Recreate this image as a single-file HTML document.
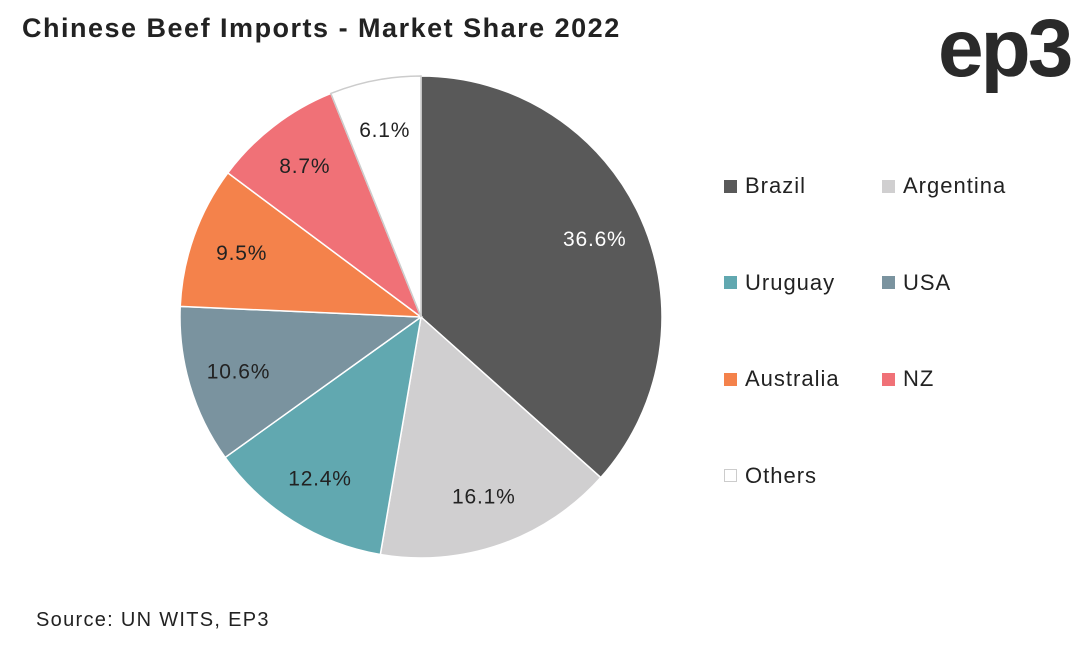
<!DOCTYPE html>
<html><head><meta charset="utf-8"><style>
body{margin:0;width:1087px;height:652px;background:#fff;font-family:"Liberation Sans",sans-serif;overflow:hidden;position:relative}
.t{position:absolute;left:22px;top:13px;font-size:27px;font-weight:bold;color:#222;letter-spacing:1.5px;white-space:nowrap}
.logo{position:absolute;left:938px;top:2px;font-size:82px;font-weight:bold;color:#2a2a2a;letter-spacing:-3px}
.src{position:absolute;left:36px;top:609px;font-size:20px;color:#222;letter-spacing:1.3px}
.lg{position:absolute;font-size:22px;color:#222;display:flex;align-items:center;letter-spacing:1px;white-space:nowrap}
.lg span{display:inline-block;width:13px;height:13px;margin-right:8px;box-sizing:border-box}
</style></head><body>
<div class="t">Chinese Beef Imports - Market Share 2022</div>
<div class="logo">ep3</div>
<svg id="pie" width="1087" height="652" style="position:absolute;left:0;top:0"></svg>
<div id="legend"></div>
<div class="src">Source: UN WITS, EP3</div>
<script>
const categories=["Brazil","Argentina","Uruguay","USA","Australia","NZ","Others"];
const values=[36.6,16.1,12.4,10.6,9.5,8.7,6.1];
const colors=["#595959","#d0cfd0","#61a8b0","#7a939f","#f4824b","#f07177","#ffffff"];
const labelColors=["#fff","#222","#222","#222","#222","#222","#222"];
const svg=document.getElementById('pie');const ns="http://www.w3.org/2000/svg";
const cx=421,cy=317,r=241;const total=values.reduce((a,b)=>a+b,0);
let a0=0;
values.forEach((v,i)=>{
 const a1=a0+v/total*2*Math.PI;
 const p=(a)=>[cx+r*Math.sin(a),cy-r*Math.cos(a)];
 const [x0,y0]=p(a0),[x1,y1]=p(a1);
 const path=document.createElementNS(ns,'path');
 path.setAttribute('d',`M${cx},${cy}L${x0},${y0}A${r},${r} 0 ${a1-a0>Math.PI?1:0} 1 ${x1},${y1}Z`);
 path.setAttribute('fill',colors[i]);path.setAttribute('stroke',i==6?'#ccc':'#fff');path.setAttribute('stroke-width','1.5');
 
 
 svg.appendChild(path);
 const am=(a0+a1)/2,lr=r*0.79;
 const t=document.createElementNS(ns,'text');
 t.setAttribute('x',cx+lr*Math.sin(am));t.setAttribute('y',cy-lr*Math.cos(am)+7);
 t.setAttribute('text-anchor','middle');t.setAttribute('font-size','21');t.setAttribute('fill',labelColors[i]);
 t.setAttribute('font-family','Liberation Sans, sans-serif');t.setAttribute('letter-spacing','0.8');
 t.textContent=v.toFixed(1)+'%';
 
 
 svg.appendChild(t);
 a0=a1;
});
const lg=document.getElementById('legend');
categories.forEach((c,i)=>{
 const d=document.createElement('div');d.className='lg';
 d.style.left=(i%2?882:724)+'px';d.style.top=(173+Math.floor(i/2)*96.5)+'px';
 d.innerHTML=`<span style="background:${colors[i]};${i==6?'border:1px solid #ccc':''}"></span>${c}`;
 
 
 lg.appendChild(d);
});
</script>
</body></html>
